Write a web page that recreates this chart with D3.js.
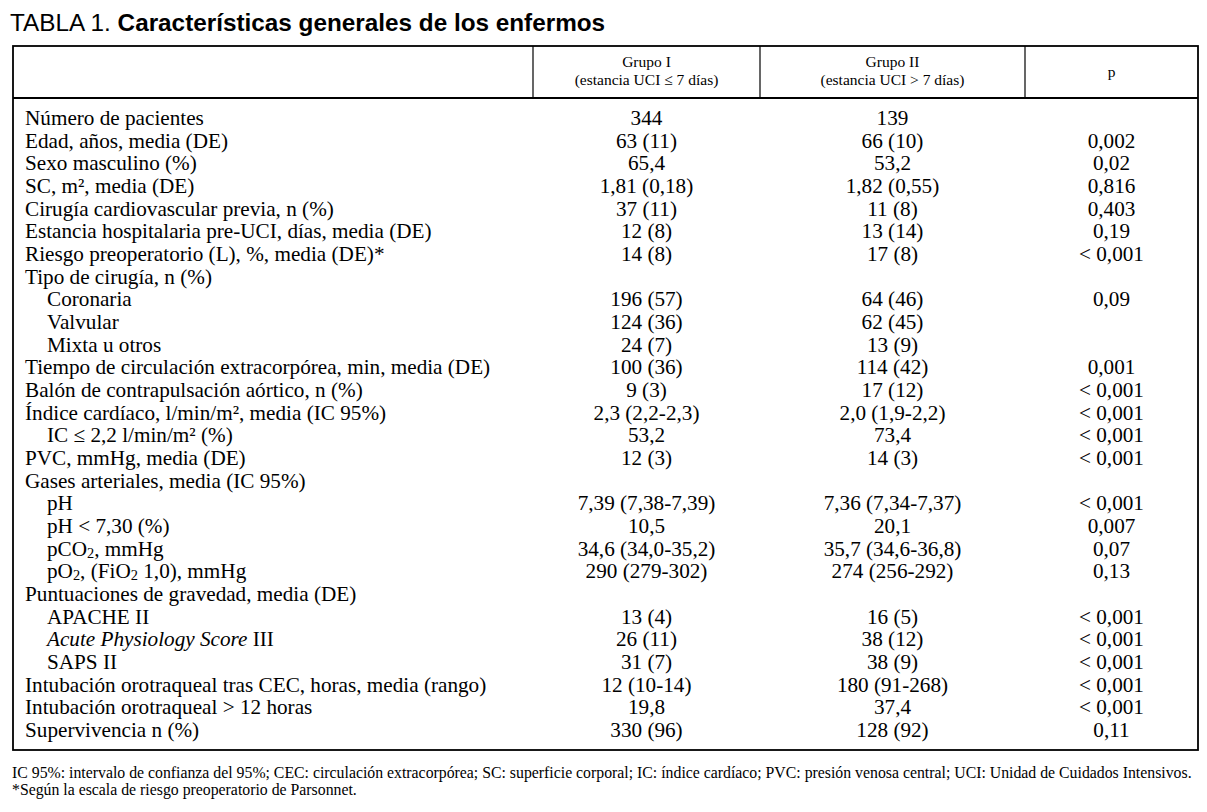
<!DOCTYPE html>
<html>
<head>
<meta charset="utf-8">
<style>
  body { margin: 0; background: #fff; }
  svg text { fill: #000; }
</style>
</head>
<body>
<svg width="1207" height="812"></svg>

<script src="https://d3js.org/d3.v7.min.js"></script>
<script>
    // ---- data ----
    var rowLabels = [
        "Número de pacientes",
        "Edad, años, media (DE)",
        "Sexo masculino (%)",
        "SC, m², media (DE)",
        "Cirugía cardiovascular previa, n (%)",
        "Estancia hospitalaria pre-UCI, días, media (DE)",
        "Riesgo preoperatorio (L), %, media (DE)*",
        "Tipo de cirugía, n (%)",
        "Coronaria",
        "Valvular",
        "Mixta u otros",
        "Tiempo de circulación extracorpórea, min, media (DE)",
        "Balón de contrapulsación aórtico, n (%)",
        "Índice cardíaco, l/min/m², media (IC 95%)",
        "IC ≤ 2,2 l/min/m² (%)",
        "PVC, mmHg, media (DE)",
        "Gases arteriales, media (IC 95%)",
        "pH",
        "pH < 7,30 (%)",
        "pCO_2_, mmHg",
        "pO_2_, (FiO_2_ 1,0), mmHg",
        "Puntuaciones de gravedad, media (DE)",
        "APACHE II",
        "*Acute Physiology Score* III",
        "SAPS II",
        "Intubación orotraqueal tras CEC, horas, media (rango)",
        "Intubación orotraqueal > 12 horas",
        "Supervivencia n (%)"
    ];

    // 1 = sub-item
    var rowLevel = [0,0,0,0,0,0,0,0,1,1,1,0,0,0,1,0,0,1,1,1,1,0,1,1,1,0,0,0];

    var grupo1 = [
        "344", "63 (11)", "65,4", "1,81 (0,18)", "37 (11)", "12 (8)", "14 (8)", "",
        "196 (57)", "124 (36)", "24 (7)", "100 (36)", "9 (3)", "2,3 (2,2-2,3)", "53,2",
        "12 (3)", "", "7,39 (7,38-7,39)", "10,5", "34,6 (34,0-35,2)", "290 (279-302)", "",
        "13 (4)", "26 (11)", "31 (7)", "12 (10-14)", "19,8", "330 (96)"
    ];

    var grupo2 = [
        "139", "66 (10)", "53,2", "1,82 (0,55)", "11 (8)", "13 (14)", "17 (8)", "",
        "64 (46)", "62 (45)", "13 (9)", "114 (42)", "17 (12)", "2,0 (1,9-2,2)", "73,4",
        "14 (3)", "", "7,36 (7,34-7,37)", "20,1", "35,7 (34,6-36,8)", "274 (256-292)", "",
        "16 (5)", "38 (12)", "38 (9)", "180 (91-268)", "37,4", "128 (92)"
    ];

    var pValues = [
        "", "0,002", "0,02", "0,816", "0,403", "0,19", "< 0,001", "",
        "0,09", "", "", "0,001", "< 0,001", "< 0,001", "< 0,001",
        "< 0,001", "", "< 0,001", "0,007", "0,07", "0,13", "",
        "< 0,001", "< 0,001", "< 0,001", "< 0,001", "< 0,001", "0,11"
    ];

    var headers = [
        ["Grupo I", "(estancia UCI ≤ 7 días)"],
        ["Grupo II", "(estancia UCI > 7 días)"],
        ["p"]
    ];

    var titlePrefix = "TABLA 1. ";
    var titleMain = "Características generales de los enfermos";

    var footnotes = [
        "IC 95%: intervalo de confianza del 95%; CEC: circulación extracorpórea; SC: superficie corporal; IC: índice cardíaco; PVC: presión venosa central; UCI: Unidad de Cuidados Intensivos.",
        "*Según la escala de riesgo preoperatorio de Parsonnet."
    ];

    // ---- layout ----
    var svg = d3.select("svg");
    var serif = "'Liberation Serif', 'Times New Roman', serif";
    var sans = "'Liberation Sans', Arial, sans-serif";

    var box = { left: 13, right: 1198, top: 46, headBottom: 98, bottom: 750 };
    var colEdges = [box.left, 533, 760, 1025, box.right];

    var x = d3.scaleOrdinal()
        .domain(["label", "g1", "g2", "p"])
        .range(colEdges.slice(0, 4).map(function (e, i) { return (e + colEdges[i + 1]) / 2; }));

    var y = d3.scaleLinear()
        .domain([0, rowLabels.length - 1])
        .range([125, 737]);

    // title
    var title = svg.append("text")
        .attr("x", 10)
        .attr("y", 31)
        .attr("font-family", sans)
        .attr("font-size", 24.3);
    title.append("tspan").text(titlePrefix);
    title.append("tspan").attr("font-weight", "bold").text(titleMain);

    // frame
    var lines = svg.append("g")
        .attr("stroke", "#000")
        .attr("stroke-width", 1.8)
        .attr("fill", "none");

    lines.append("rect")
        .attr("x", box.left)
        .attr("y", box.top)
        .attr("width", box.right - box.left)
        .attr("height", box.bottom - box.top);

    lines.append("line")
        .attr("x1", box.left).attr("x2", box.right)
        .attr("y1", box.headBottom).attr("y2", box.headBottom);

    lines.selectAll("line.sep")
        .data(colEdges.slice(1, 4))
        .enter().append("line")
        .attr("class", "sep")
        .attr("stroke-width", 1.2)
        .attr("x1", function (d) { return d; })
        .attr("x2", function (d) { return d; })
        .attr("y1", box.top)
        .attr("y2", box.headBottom);

    // header cells
    svg.append("g")
        .attr("font-family", serif)
        .attr("font-size", 15.5)
        .attr("text-anchor", "middle")
        .selectAll("text")
        .data(headers)
        .enter().append("text")
        .attr("x", function (d, i) { return x(["g1", "g2", "p"][i]); })
        .attr("y", function (d) { return d.length > 1 ? 67 : 77; })
        .selectAll("tspan")
        .data(function (d) { return d; })
        .enter().append("tspan")
        .attr("x", function () { return d3.select(this.parentNode).attr("x"); })
        .attr("dy", function (d, i) { return i ? 18 : 0; })
        .text(function (d) { return d; });

    // label with _sub_ and *italic* markup
    function richText(sel, str) {
        var parts = str.split(/(_[^_]+_|\*[^*]+\*)/).filter(function (s) { return s.length; });
        parts.forEach(function (p) {
            if (p.length > 2 && p[0] === "_" && p[p.length - 1] === "_") {
                sel.append("tspan").attr("font-size", "0.68em").attr("baseline-shift", "-12%").text(p.slice(1, -1));
            } else if (p.length > 2 && p[0] === "*" && p[p.length - 1] === "*") {
                sel.append("tspan").attr("font-style", "italic").text(p.slice(1, -1));
            } else {
                sel.append("tspan").text(p);
            }
        });
    }

    var body = svg.append("g")
        .attr("font-family", serif)
        .attr("font-size", 21.2);

    var rows = body.selectAll("g.row")
        .data(rowLabels)
        .enter().append("g")
        .attr("class", "row")
        .attr("transform", function (d, i) { return "translate(0," + y(i) + ")"; });

    rows.append("text")
        .attr("x", function (d, i) { return 25 + rowLevel[i] * 22; })
        .each(function (d) { richText(d3.select(this), d); });

    rows.append("text")
        .attr("x", x("g1"))
        .attr("text-anchor", "middle")
        .text(function (d, i) { return grupo1[i]; });

    rows.append("text")
        .attr("x", x("g2"))
        .attr("text-anchor", "middle")
        .text(function (d, i) { return grupo2[i]; });

    rows.append("text")
        .attr("x", x("p"))
        .attr("text-anchor", "middle")
        .text(function (d, i) { return pValues[i]; });

    // footnotes
    svg.append("g")
        .attr("font-family", serif)
        .attr("font-size", 15.8)
        .selectAll("text")
        .data(footnotes)
        .enter().append("text")
        .attr("x", 12)
        .attr("y", function (d, i) { return 778 + i * 17; })
        .text(function (d) { return d; });
</script>
</body>
</html>
